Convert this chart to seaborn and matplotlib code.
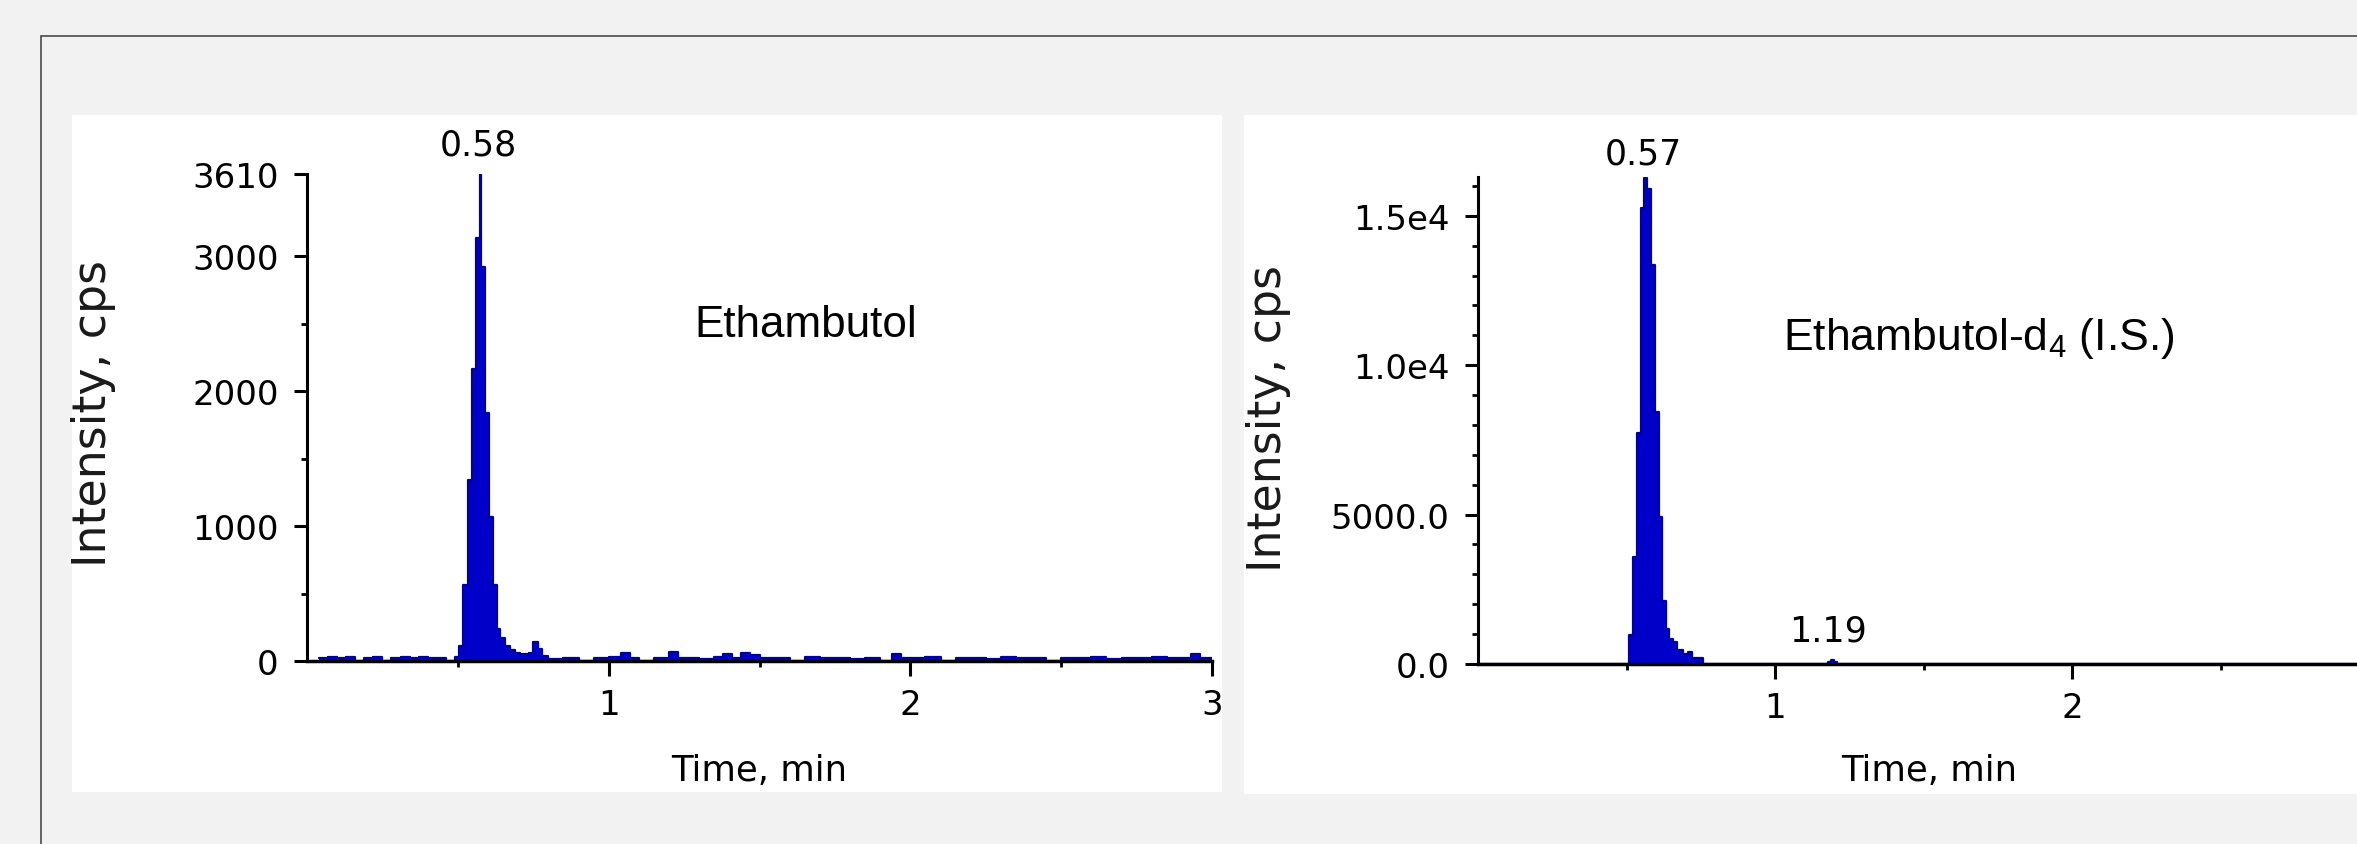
import matplotlib
matplotlib.use("Agg")
import matplotlib.pyplot as plt
import seaborn as sns
from matplotlib.patches import Rectangle
from matplotlib.ticker import FixedLocator

# Ethambutol trace (left edges of each scan, min) and intensity (cps)
left_time = [
    0.04, 0.07, 0.10, 0.13, 0.16, 0.19, 0.22, 0.25, 0.28, 0.31, 0.34, 0.37,
    0.40, 0.43, 0.46, 0.49,
    0.5049, 0.5182, 0.5326, 0.5459, 0.5602, 0.5734, 0.5767, 0.5900, 0.6043,
    0.6175, 0.6308, 0.6397, 0.6563, 0.6729, 0.6894,
    0.705, 0.72, 0.735, 0.75, 0.765, 0.78,
    0.80, 0.85, 0.90, 0.95, 1.00, 1.04, 1.07, 1.10, 1.15, 1.20, 1.23, 1.26,
    1.30, 1.35, 1.38, 1.41, 1.44, 1.47, 1.50, 1.55, 1.60, 1.65, 1.70, 1.75,
    1.80, 1.85, 1.90, 1.94, 1.97, 2.00, 2.05, 2.10, 2.15, 2.20, 2.25, 2.30,
    2.35, 2.40, 2.45, 2.50, 2.55, 2.60, 2.65, 2.70, 2.75, 2.80, 2.85, 2.90,
    2.93, 2.96, 3.00,
]
left_cps = [
    25, 30, 20, 30, 0, 25, 30, 0, 25, 30, 25, 30,
    20, 25, 0, 30,
    110, 567, 1338, 2166, 3137, 3610, 2923, 1838, 1066,
    567, 239, 167, 110, 81, 60,
    50, 55, 60, 140, 90, 40,
    15, 25, 0, 20, 30, 60, 20, 0, 25, 65, 20, 25,
    15, 30, 55, 25, 60, 45, 20, 25, 0, 30, 20, 25,
    15, 25, 0, 55, 20, 25, 30, 0, 20, 25, 15, 30,
    20, 25, 0, 25, 20, 30, 15, 25, 20, 30, 25, 20,
    50, 25, 25,
]

# Ethambutol-d4 (I.S.) trace
right_time = [
    0.0, 0.5084, 0.5208, 0.5343, 0.5478, 0.5600, 0.5701, 0.5815, 0.5960,
    0.6094, 0.6206, 0.6330, 0.6441, 0.6577, 0.6690, 0.6914, 0.7081, 0.7195,
    0.7586, 1.17, 1.18, 1.19, 1.20, 1.21, 3.0,
]
right_cps = [
    0, 970, 3590, 7730, 15260, 16280, 15900, 13350, 8440,
    4930, 2120, 1170, 850, 720, 470, 330, 400, 210,
    0, 0, 60, 120, 60, 0, 0,
]

left_yticks = [0, 1000, 2000, 3000, 3610]
left_ylabels = ["0", "1000", "2000", "3000", "3610"]
right_yticks = [0, 5000, 10000, 15000]
right_ylabels = ["0.0", "5000.0", "1.0e4", "1.5e4"]
x_ticks = [1, 2, 3]

sns.set_style("ticks")
plt.rcParams["font.family"] = ["DejaVu Sans"]
plt.rcParams["text.color"] = "black"
plt.rcParams["axes.labelcolor"] = "black"
plt.rcParams["mathtext.fontset"] = "custom"
plt.rcParams["mathtext.rm"] = "Liberation Sans"
plt.rcParams["mathtext.it"] = "Liberation Sans:italic"

W, H = 2357, 845
fig = plt.figure(figsize=(W / 100, H / 100), dpi=100, facecolor="#f2f2f2")


def fx(px):
    return px / W


def fy(py):
    return 1 - py / H


# outer frame and the two white panels
fig.add_artist(Rectangle((fx(41), -0.5), 2, fy(37) + 0.5, transform=fig.transFigure,
                         fill=False, ec="#4a4a4a", lw=1.2, zorder=-2))
fig.add_artist(Rectangle((fx(72), fy(793)), fx(1150), 677 / H, transform=fig.transFigure,
                         fc="white", ec="none", zorder=-1))
fig.add_artist(Rectangle((fx(1244), fy(795)), 0.6, 679 / H, transform=fig.transFigure,
                         fc="white", ec="none", zorder=-1))

axL = fig.add_axes([fx(307), fy(662), fx(905), 487 / H])
axR = fig.add_axes([fx(1478), fy(665), fx(891), 487 / H])

fill_c = "#0000c8"
line_c = "#00009a"

panels = [
    (axL, left_time, left_cps, (0, 3610), left_yticks, left_ylabels, [500, 1500, 2500]),
    (axR, right_time, right_cps, (0, 16300), right_yticks, right_ylabels, list(range(1000, 17000, 1000))),
]

for ax, t, y, ylim, yt, yl, yminor in panels:
    ax.set_facecolor("none")
    ax.fill_between(t, y, step="post", color=fill_c, lw=0)
    sns.lineplot(x=t, y=y, ax=ax, drawstyle="steps-post", color=line_c, lw=1.6,
                 estimator=None)
    ax.set_xlim(0, 3)
    ax.set_ylim(*ylim)
    ax.xaxis.set_major_locator(FixedLocator(x_ticks))
    ax.xaxis.set_minor_locator(FixedLocator([0.5, 1.5, 2.5]))
    ax.set_yticks(yt)
    ax.set_yticklabels(yl)
    ax.yaxis.set_minor_locator(FixedLocator(yminor))
    for s in ["top", "right"]:
        ax.spines[s].set_visible(False)
    ax.spines["left"].set_linewidth(2.2)
    ax.spines["bottom"].set_linewidth(2.5)
    ax.spines["left"].set_color("black")
    ax.spines["bottom"].set_color("black")
    ax.tick_params(axis="x", which="major", direction="out", length=10.8, width=2.2,
                   pad=8.6, labelsize=24.5, colors="black")
    ax.tick_params(axis="y", which="major", direction="out", length=9.5, width=2.2,
                   pad=11, labelsize=24.5, colors="black")
    ax.tick_params(which="minor", direction="out", length=4, width=2.0, colors="black")
    ax.set_xlabel("Time, min", fontsize=25.5, color="black")
    ax.set_ylabel("Intensity, cps", fontsize=33, color="#1a1a1a")

axL.xaxis.set_label_coords(0.5, -0.189)
axR.xaxis.set_label_coords(0.506, -0.183)
axL.yaxis.set_label_coords(-0.211, 0.51)
axR.yaxis.set_label_coords(-0.210, 0.507)

# peak labels
axL.annotate("0.58", xy=(0.567, 3610), xytext=(0, 13.7), textcoords="offset points",
             ha="center", va="baseline", fontsize=25, color="black", annotation_clip=False)
axR.annotate("0.57", xy=(0.556, 16280), xytext=(0, 10.4), textcoords="offset points",
             ha="center", va="baseline", fontsize=25, color="black", annotation_clip=False)
axR.annotate("1.19", xy=(1.18, 0), xytext=(0, 17), textcoords="offset points",
             ha="center", va="baseline", fontsize=25, color="black", annotation_clip=False)

axL.text(0.4276, 0.667, "Ethambutol", transform=axL.transAxes, ha="left",
         va="baseline", fontsize=31.7, family="Liberation Sans", color="black")
axR.text(0.3423, 0.647, "Ethambutol-d$_4$ (I.S.)", transform=axR.transAxes, ha="left",
         va="baseline", fontsize=32, family="Liberation Sans", color="black")

fig.savefig("out.png", dpi=100, facecolor=fig.get_facecolor())
